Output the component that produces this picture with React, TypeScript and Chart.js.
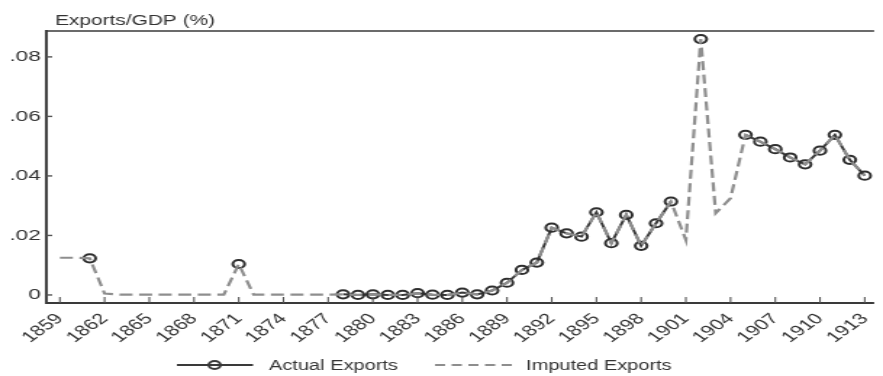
import { useEffect, useRef } from "react";
import { Chart, registerables } from "chart.js";

Chart.register(...registerables);

// Years on the horizontal axis
const YEARS = [
  1859, 1860, 1861, 1862, 1863, 1864, 1865, 1866, 1867, 1868, 1869, 1870,
  1871, 1872, 1873, 1874, 1875, 1876, 1877, 1878, 1879, 1880, 1881, 1882,
  1883, 1884, 1885, 1886, 1887, 1888, 1889, 1890, 1891, 1892, 1893, 1894,
  1895, 1896, 1897, 1898, 1899, 1900, 1901, 1902, 1903, 1904, 1905, 1906,
  1907, 1908, 1909, 1910, 1911, 1912, 1913,
];

// Observed export share (null = no observation)
const ACTUAL = [
  null, null, 0.0123, null, null, null, null, null, null, null, null, null,
  0.0104, null, null, null, null, null, null, 0.0002, 0.0, 0.0002, 0.0, 0.0,
  0.0006, 0.0001, 0.0, 0.0008, 0.0002, 0.0015, 0.0041, 0.0084, 0.0109, 0.0226, 0.0207, 0.0196,
  0.0278, 0.0174, 0.0269, 0.0165, 0.0241, 0.0314, null, 0.086, null, null, 0.0538, 0.0515,
  0.049, 0.0462, 0.0439, 0.0485, 0.0538, 0.0454, 0.0401,
];

// Full series including imputed years
const IMPUTED = [
  0.0125, 0.0125, 0.0123, 0.0005, 0.0001, 0.0001, 0.0001, 0.0001, 0.0001, 0.0001, 0.0001, 0.0001,
  0.0104, 0.0001, 0.0001, 0.0001, 0.0001, 0.0001, 0.0001, 0.0002, 0.0, 0.0002, 0.0, 0.0,
  0.0006, 0.0001, 0.0, 0.0008, 0.0002, 0.0015, 0.0041, 0.0084, 0.0109, 0.0226, 0.0207, 0.0196,
  0.0278, 0.0174, 0.0269, 0.0165, 0.0241, 0.0314, 0.0185, 0.086, 0.0275, 0.0325, 0.0538, 0.0515,
  0.049, 0.0462, 0.0439, 0.0485, 0.0538, 0.0454, 0.0401,
];

const X_TICKS = [
  1859, 1862, 1865, 1868, 1871, 1874, 1877, 1880, 1883, 1886, 1889, 1892,
  1895, 1898, 1901, 1904, 1907, 1910, 1913,
];
const Y_TICKS = [0, 0.02, 0.04, 0.06, 0.08];
const Y_TICK_LABELS = ["0", ".02", ".04", ".06", ".08"];
const SERIES_LABELS = ["Actual Exports", "Imputed Exports"];
const TITLE = "Exports/GDP (%)";

// Drawing buffer is narrower than the displayed box; CSS widens it.
const BUF_W = 609;
const BUF_H = 376;
const FONT = '"Liberation Sans", Arial, Helvetica, sans-serif';
const TEXT = "#333333";
const DARK = "#3a3a3a";
const GREY = "#8e8e8e";

const framePlugin = {
  id: "frame",
  afterDraw(chart: any) {
    const { ctx, chartArea: a, scales } = chart;
    const x = scales.x;
    const y = scales.y;
    const seg = (x1: number, y1: number, x2: number, y2: number) => {
      ctx.beginPath();
      ctx.moveTo(x1, y1);
      ctx.lineTo(x2, y2);
      ctx.stroke();
    };
    ctx.save();
    // plot region outline: top rule, left and bottom axes
    ctx.strokeStyle = "#6b6b6b";
    ctx.lineWidth = 2;
    seg(a.left, a.top, a.right, a.top);
    ctx.strokeStyle = DARK;
    ctx.lineWidth = 1.9;
    seg(a.left, a.top - 1, a.left, a.bottom + 1);
    ctx.lineWidth = 2;
    seg(a.left, a.bottom, a.right, a.bottom);

    // tick marks
    ctx.strokeStyle = "#555555";
    ctx.lineWidth = 1.1;
    X_TICKS.forEach((v) => {
      const px = x.getPixelForValue(v);
      seg(px, a.bottom, px, a.bottom - 6);
    });
    ctx.lineWidth = 1.4;
    Y_TICKS.forEach((v) => {
      const py = y.getPixelForValue(v);
      seg(a.left, py, a.left + 4, py);
    });

    // axis title
    ctx.fillStyle = TEXT;
    ctx.font = `14.4px ${FONT}`;
    ctx.textAlign = "left";
    ctx.textBaseline = "alphabetic";
    ctx.fillText(TITLE, 38, 24.5);

    // legend
    ctx.font = `13.8px ${FONT}`;
    const ly = 365;
    ctx.strokeStyle = DARK;
    ctx.lineWidth = 2;
    seg(122, ly, 174.5, ly);
    ctx.lineWidth = 2;
    ctx.beginPath();
    ctx.arc(148, ly, 4, 0, Math.PI * 2);
    ctx.stroke();
    ctx.fillText(SERIES_LABELS[0], 185.5, 370);

    ctx.strokeStyle = GREY;
    ctx.lineWidth = 2;
    ctx.setLineDash([7, 4.5]);
    seg(300, ly, 353, ly);
    ctx.setLineDash([]);
    ctx.fillText(SERIES_LABELS[1], 362.8, 370);
    ctx.restore();
  },
};

export default function App() {
  const ref = useRef<HTMLCanvasElement | null>(null);

  useEffect(() => {
    document.body.style.margin = "0";
    const canvas = ref.current;
    if (!canvas) return;
    const chart = new Chart(canvas, {
      type: "line",
      data: {
        datasets: [
          {
            label: SERIES_LABELS[1],
            data: YEARS.map((yr, i) => ({ x: yr, y: IMPUTED[i] })),
            borderColor: GREY,
            borderWidth: 2.2,
            borderDash: [9, 4.5],
            pointRadius: 0,
            tension: 0,
            fill: false,
            order: 1,
          },
          {
            label: SERIES_LABELS[0],
            data: YEARS.map((yr, i) => ({ x: yr, y: ACTUAL[i] })),
            borderColor: DARK,
            borderWidth: 2,
            pointRadius: 4.1,
            pointBorderWidth: 2,
            pointBorderColor: "#2e2e2e",
            pointBackgroundColor: "rgba(0,0,0,0)",
            spanGaps: false,
            tension: 0,
            fill: false,
            order: 2,
          },
        ],
      },
      options: {
        animation: false,
        responsive: false,
        devicePixelRatio: 1,
        layout: { padding: { top: 31, left: 0, right: 0, bottom: 0 } },
        plugins: {
          legend: { display: false },
          tooltip: { enabled: false },
          title: { display: false },
        },
        scales: {
          x: {
            type: "linear",
            min: 1858.095,
            max: 1913.635,
            grid: { display: false, drawTicks: false },
            border: { display: false },
            afterBuildTicks: (s: any) => {
              s.ticks = X_TICKS.map((v) => ({ value: v }));
            },
            afterFit: (s: any) => {
              s.height = BUF_H - 303;
              s.paddingLeft = 0;
              s.paddingRight = 0;
            },
            ticks: {
              autoSkip: false,
              minRotation: 45,
              maxRotation: 45,
              padding: 7,
              color: TEXT,
              font: { family: FONT, size: 15 },
              callback: (v: any) => String(v),
            },
          },
          y: {
            type: "linear",
            min: -0.0027,
            max: 0.0887,
            grid: { display: false, drawTicks: false },
            border: { display: false },
            afterBuildTicks: (s: any) => {
              s.ticks = Y_TICKS.map((v) => ({ value: v }));
            },
            afterFit: (s: any) => {
              s.width = 32;
              s.paddingTop = 0;
              s.paddingBottom = 0;
            },
            ticks: {
              padding: 4,
              color: TEXT,
              font: { family: FONT, size: 15.5 },
              callback: (v: any) => {
                const idx = Y_TICKS.findIndex((t) => Math.abs(t - v) < 1e-9);
                return idx >= 0 ? Y_TICK_LABELS[idx] : "";
              },
            },
          },
        },
      },
      plugins: [framePlugin],
    });
    return () => chart.destroy();
  }, []);

  return (
    <div style={{ position: "absolute", left: 0, top: 0, width: 883, height: 376, background: "#fff" }}>
      <canvas
        ref={ref}
        width={BUF_W}
        height={BUF_H}
        style={{ display: "block", width: "883px", height: "376px" }}
      />
    </div>
  );
}
